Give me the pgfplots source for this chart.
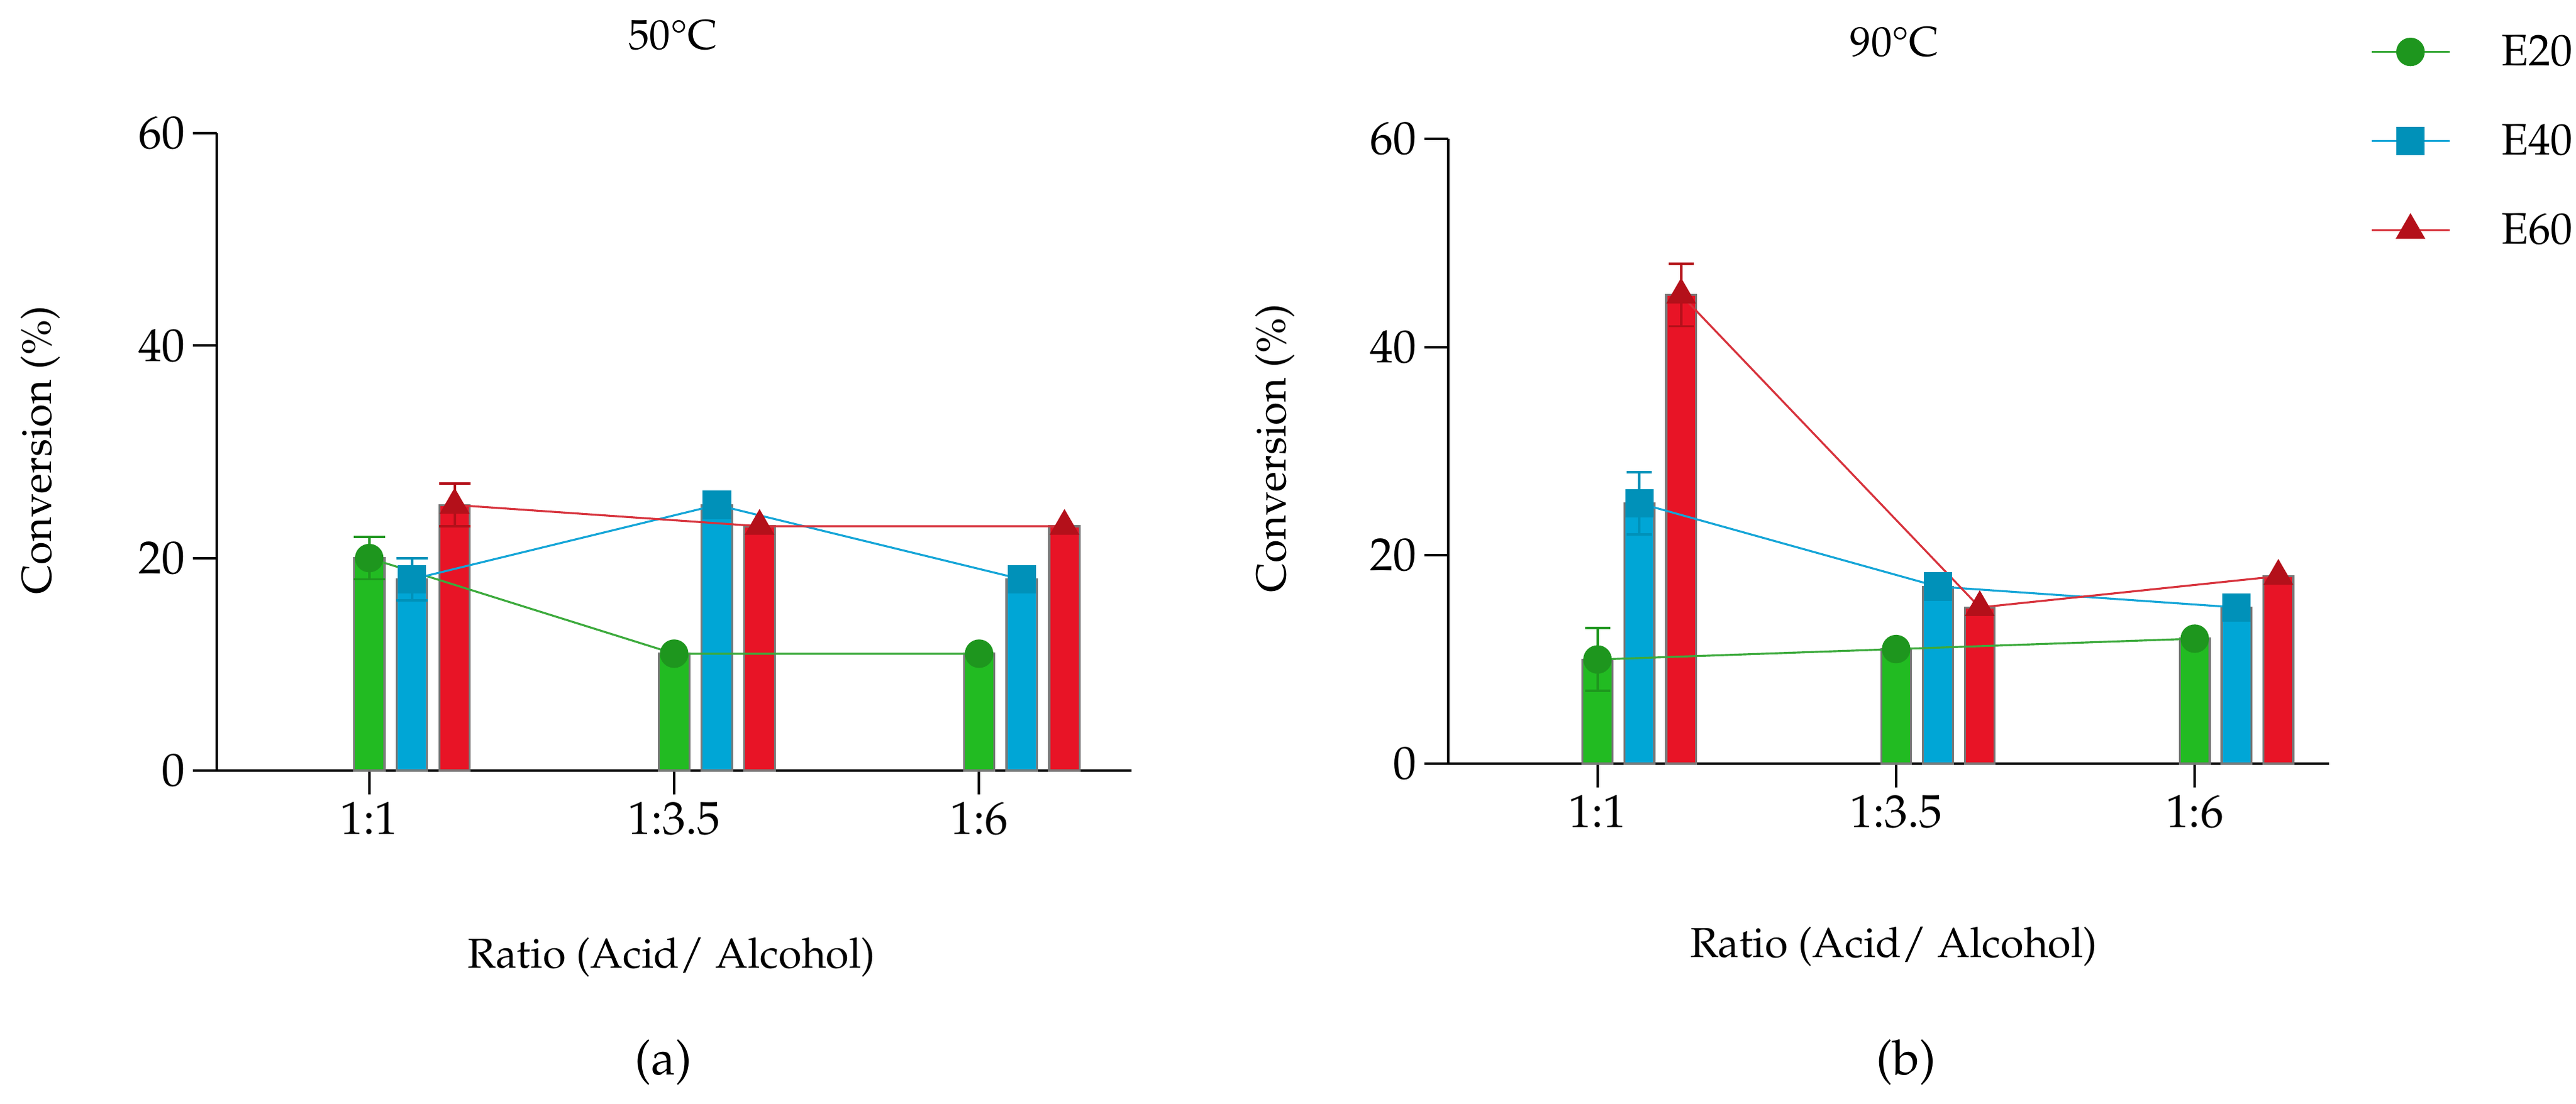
\documentclass[border=0pt]{standalone}
\usepackage[T1]{fontenc}
\usepackage{mathpazo}
\usepackage{pgfplots}
\pgfplotsset{compat=1.18}

\definecolor{gbar}{RGB}{34,187,34}
\definecolor{bbar}{RGB}{0,166,214}
\definecolor{rbar}{RGB}{232,20,38}
\definecolor{gmark}{RGB}{30,150,30}
\definecolor{bmark}{RGB}{0,145,185}
\definecolor{rmark}{RGB}{180,16,26}
\definecolor{gline}{RGB}{60,170,60}
\definecolor{bline}{RGB}{20,165,215}
\definecolor{rline}{RGB}{215,50,60}
\definecolor{barline}{RGB}{120,120,120}

\pgfplotsset{
  panel/.style={scale only axis, axis lines*=left, clip=false,
    xmin=-0.5, ymin=0, ymax=60, ytick={0,20,40,60},
    xtick={0,1,2}, xticklabels={1:1,1:3.5,1:6},
    tick align=outside, major tick length=0.38cm,
    axis line style={line width=1.1pt},
    tick style={line width=1.1pt, black},
    ticklabel style={font=\fontsize{21}{21}\selectfont}},
  bars/.style={ybar, bar width=0.1, bar shift=0pt, draw=barline, line width=0.9pt, fill=#1, forget plot},
  errs/.style 2 args={draw=none, mark=none, forget plot,
    error bars/.cd, y dir=both, y explicit,
    error bar style={draw=#1, line width=1.1pt},
    error mark options={rotate=90, draw=#1, line width=1.1pt, mark size=#2}},
  e20/.style={gline, line width=0.9pt, mark=*, mark size=6pt, mark options={fill=gmark, draw=gmark}},
  e40/.style={bline, line width=0.9pt, mark=square*, mark size=6pt, mark options={fill=bmark, draw=bmark}},
  e60/.style={rline, line width=0.9pt, mark=triangle*, mark size=6.9pt, mark options={fill=rmark, draw=rmark}},
}

\begin{document}
\begin{tikzpicture}
\path[use as bounding box] (0,0) rectangle (41,17.57);

% (a) 50 C
\begin{axis}[panel, at={(3.45cm,5.30cm)}, anchor=south west,
  width=14.56cm, height=10.15cm, xmax=2.5]
\addplot[bars=gbar] coordinates {(0,20) (1,11) (2,11)};
\addplot[bars=bbar] coordinates {(0.14,18) (1.14,25) (2.14,18)};
\addplot[bars=rbar] coordinates {(0.28,25) (1.28,23) (2.28,23)};
\addplot[errs={gmark}{0.25cm}] coordinates {(0,20) +- (0,2)};
\addplot[errs={bmark}{0.25cm}] coordinates {(0.14,18) +- (0,2)};
\addplot[errs={rmark}{0.25cm}] coordinates {(0.28,25) +- (0,2)};
\addplot[e20] coordinates {(0,20) (1,11) (2,11)};
\addplot[e40] coordinates {(0.14,18) (1.14,25) (2.14,18)};
\addplot[e60] coordinates {(0.28,25) (1.28,23) (2.28,23)};
\end{axis}

% (b) 90 C
\begin{axis}[panel, at={(23.05cm,5.41cm)}, anchor=south west,
  width=14.02cm, height=9.95cm, xmax=2.45,
  legend style={at={(axis description cs:1.039,1.181)}, anchor=north west,
    draw=none, fill=none, row sep=0.74cm, font=\fontsize{20}{20}\selectfont,
    /tikz/every odd column/.append style={column sep=0.74cm}},
  legend cell align=left,
  legend image code/.code={\draw[mark repeat=2, mark phase=2, #1] plot coordinates {(0cm,0cm) (0.62cm,0cm) (1.24cm,0cm)};}]
\addplot[bars=gbar] coordinates {(0,10) (1,11) (2,12)};
\addplot[bars=bbar] coordinates {(0.14,25) (1.14,17) (2.14,15)};
\addplot[bars=rbar] coordinates {(0.28,45) (1.28,15) (2.28,18)};
\addplot[errs={gmark}{0.2cm}] coordinates {(0,10) +- (0,3)};
\addplot[errs={bmark}{0.2cm}] coordinates {(0.14,25) +- (0,3)};
\addplot[errs={rmark}{0.2cm}] coordinates {(0.28,45) +- (0,3)};
\addplot[e20] coordinates {(0,10) (1,11) (2,12)};
\addlegendentry{E20}
\addplot[e40] coordinates {(0.14,25) (1.14,17) (2.14,15)};
\addlegendentry{E40}
\addplot[e60] coordinates {(0.28,45) (1.28,15) (2.28,18)};
\addlegendentry{E60}
\end{axis}

\begin{scope}[font=\fontsize{19}{19}\selectfont]
\node at (10.71,17.01) {50\textdegree C};
\node at (30.15,16.90) {90\textdegree C};
\node at (10.69,2.33) {Ratio (Acid/ Alcohol)};
\node at (30.14,2.50) {Ratio (Acid/ Alcohol)};
\node[rotate=90] at (0.64,10.40) {Conversion (\%)};
\node[rotate=90] at (20.29,10.43) {Conversion (\%)};
\end{scope}
\node[font=\fontsize{22}{22}\selectfont] at (10.56,0.65) {(a)};
\node[font=\fontsize{22}{22}\selectfont] at (30.34,0.65) {(b)};
\end{tikzpicture}
\end{document}
